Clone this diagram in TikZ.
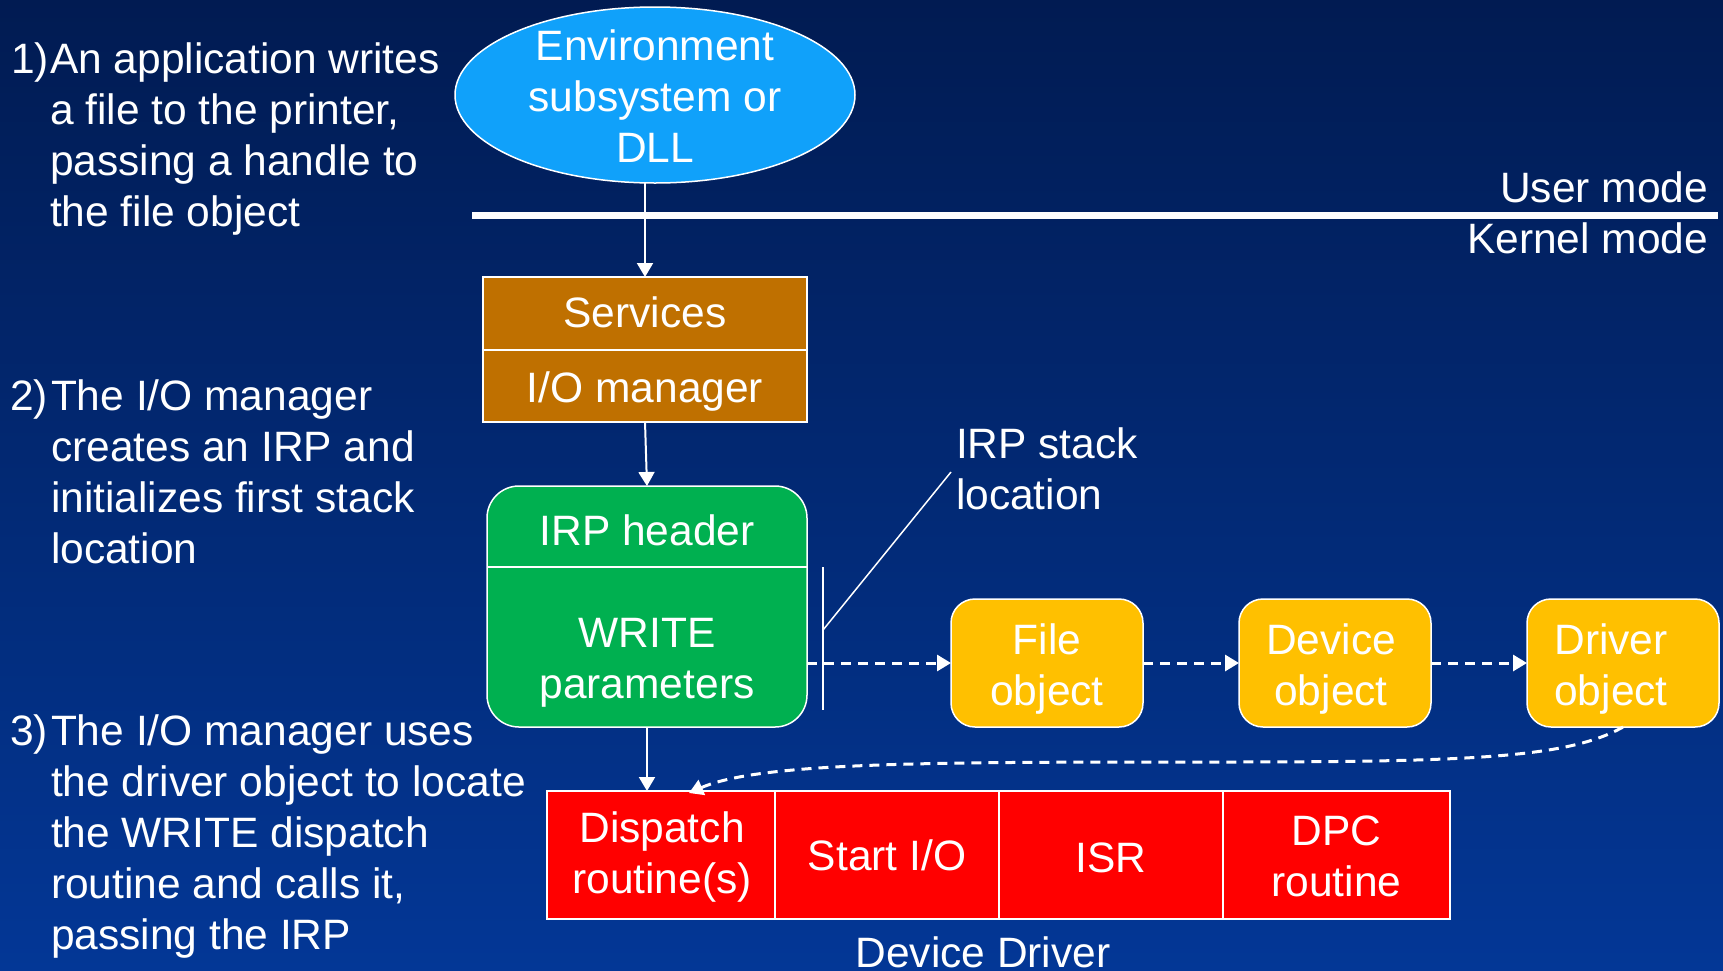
\documentclass[tikz,border=0pt]{standalone}
\usepackage{fontspec}
\setmainfont{Liberation Sans}
\usetikzlibrary{shapes.geometric,arrows.meta}

\definecolor{bgtop}{RGB}{1,27,82}
\definecolor{bgbot}{RGB}{3,55,150}
\definecolor{envblue}{RGB}{16,161,250}
\definecolor{svcbrown}{RGB}{191,112,0}
\definecolor{irpgreen}{RGB}{0,176,80}
\definecolor{objyellow}{RGB}{255,192,0}
\definecolor{drvred}{RGB}{255,0,0}

\begin{document}
\begin{tikzpicture}[x=1pt,y=-1pt,
  lbl/.style={text=white, inner sep=0pt, outer sep=0pt,
              font=\fontsize{42.5}{51}\selectfont},
  shapebox/.style={draw=white, line width=1.5pt, inner sep=0pt, outer sep=0pt},
  svcbox/.style={shapebox, rectangle, fill=svcbrown, minimum width=324pt},
  irpbox/.style={shapebox, rectangle, fill=irpgreen, rounded corners=32pt,
                 minimum width=320pt, minimum height=241pt},
  objbox/.style={shapebox, rectangle, fill=objyellow, rounded corners=24pt,
                 minimum width=192pt, minimum height=128pt},
  redbox/.style={shapebox, rectangle, fill=drvred, minimum height=128pt},
  arr/.style={white, line width=2pt, -{Triangle[length=14pt,width=16pt]}},
  dasharr/.style={arr, line width=3pt, dash pattern=on 10pt off 7pt}
]
% background and page frame
\useasboundingbox (0,0) rectangle (1723,970);
\shade[top color=bgtop, bottom color=bgbot] (0,0) rectangle (1723,970);

% user / kernel boundary
\draw[white, line width=7.5pt] (472,215.5) -- (1718,215.5);
\node[lbl, anchor=base east] (user) at (1708,202) {User mode};
\node[lbl, anchor=base east] (kernel) at (1708,253) {Kernel mode};

% environment subsystem (multi-line labels are placed by their last baseline)
\node[shapebox, ellipse, fill=envblue, minimum width=400pt, minimum height=176pt] (env) at (655,95) {};
\node[lbl, align=center, anchor=base] (envtxt) at (655,162) {Environment\\subsystem or\\DLL};

% services and I/O manager
\node[svcbox, minimum height=73pt] (svc) at (645,313.5) {};
\node[svcbox, minimum height=72pt] (iom) at (645,386) {};
\node[lbl, anchor=base] (svctxt) at (645,327) {Services};
\node[lbl, anchor=base] (iomtxt) at (645,402) {I/O manager};

% IRP
\node[irpbox] (irp) at (647,606.5) {};
\draw[white, line width=2pt] (487,567) -- (807,567);
\node[lbl, anchor=base] (irphdr) at (647,545) {IRP header};
\node[lbl, align=center, anchor=base] (irpwr) at (647,698) {WRITE\\parameters};

% IRP stack location marker
\coordinate (bartop) at (823,567);
\coordinate (barbot) at (823,710);
\coordinate (barmid) at (823,630);
\coordinate (leader) at (951,472);
\draw[white, line width=2pt] (bartop) -- (barbot);
\draw[white, line width=1.5pt] (barmid) -- (leader);
\node[lbl, align=left, anchor=base west] (stacklbl) at (956,509) {IRP stack\\location};

% objects
\node[objbox] (file) at (1047,663) {};
\node[objbox] (dev) at (1335,663) {};
\node[objbox] (drv) at (1623,663) {};
\node[lbl, align=center, anchor=base] (filetxt) at (1047,705) {File\\object};
\node[lbl, align=center, anchor=base] (devtxt) at (1331,705) {Device\\object};
\node[lbl, align=center, anchor=base] (drvtxt) at (1611,705) {Driver\\object};

% device driver routines
\node[redbox, minimum width=228pt] (disp) at (661,855) {};
\node[redbox, minimum width=224pt] (start) at (887,855) {};
\node[redbox, minimum width=224pt] (isr) at (1111,855) {};
\node[redbox, minimum width=227pt] (dpc) at (1336.5,855) {};
\node[lbl, align=center, anchor=base] (disptxt) at (662,893) {Dispatch\\routine(s)};
\node[lbl, anchor=base] (starttxt) at (887,870) {Start I/O};
\node[lbl, anchor=base] (isrtxt) at (1111,872) {ISR};
\node[lbl, align=center, anchor=base] (dpctxt) at (1336.5,896) {DPC\\routine};
\node[lbl, anchor=base] (ddtxt) at (983,967) {Device Driver};

% connectors
\draw[arr] (env.south -| svc.north) -- (svc.north);
\draw[arr] (iom.south) -- (irp.north);
\draw[arr] (irp.south) -- (irp.south |- disp.north);
\draw[dasharr] (irp.east |- file.west) -- (file.west);
\draw[dasharr] (file.east) -- (dev.west);
\draw[dasharr] (dev.east) -- (drv.west);
\coordinate (dispin) at (689,793);
\draw[dasharr] (drv.south) .. controls (1568,758) and (1470,762) .. (1215,762)
                .. controls (930,762) and (760,762) .. (dispin);

% steps
\node[lbl, anchor=base west] (n1) at (11,73) {1)};
\node[lbl, align=left, anchor=base west] (s1) at (50,226)
  {An application writes\\a file to the printer,\\passing a handle to\\the file object};
\node[lbl, anchor=base west] (n2) at (10,410) {2)};
\node[lbl, align=left, anchor=base west] (s2) at (51,563)
  {The I/O manager\\creates an IRP and\\initializes first stack\\location};
\node[lbl, anchor=base west] (n3) at (10,745) {3)};
\node[lbl, align=left, anchor=base west] (s3) at (51,949)
  {The I/O manager uses\\the driver object to locate\\the WRITE dispatch\\routine and calls it,\\passing the IRP};
\end{tikzpicture}
\end{document}
